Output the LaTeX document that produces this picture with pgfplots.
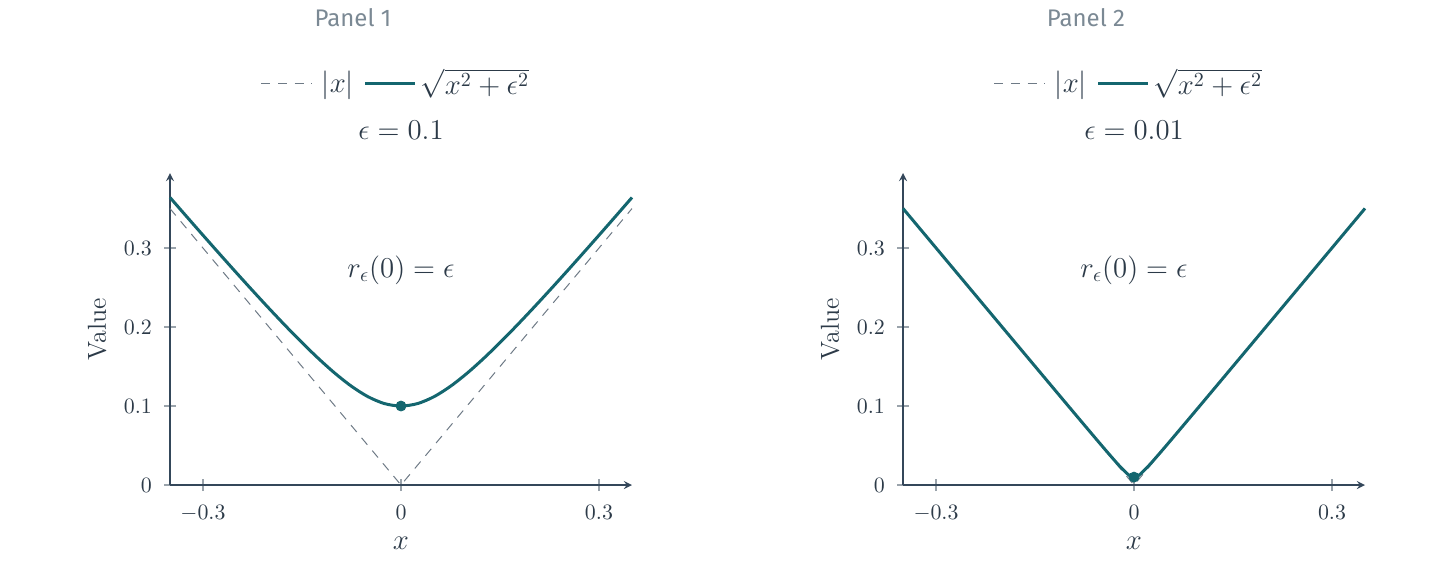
\documentclass[border=0pt]{standalone}
\usepackage{fontspec}
\usepackage{pgfplots}
\pgfplotsset{compat=1.18}
\newfontfamily\panelfont{Fira Sans}
\definecolor{teal1}{HTML}{14666F}
\definecolor{dashc}{HTML}{6E7A86}
\definecolor{textc}{HTML}{2C3A48}
\definecolor{axisc}{HTML}{34475A}
\definecolor{tickc}{HTML}{9AA3AB}
\definecolor{panelc}{HTML}{7B8994}

\pgfplotsset{
  panel/.style={
    scale only axis, width=231pt, height=156pt,
    xmin=-0.35, xmax=0.35, ymin=0, ymax=0.395,
    axis lines=left,
    axis line style={axisc, line width=0.8pt, -stealth},
    xtick={-0.3,0,0.3}, ytick={0,0.1,0.2,0.3},
    tick align=center, major tick length=6pt,
    tick style={tickc, line width=0.6pt},
    every tick label/.append style={text=textc, font=\fontsize{11}{13}\selectfont},
    xticklabel style={yshift=-3.5pt},
    yticklabel style={xshift=-2.5pt},
    xlabel={$x$}, ylabel={Value},
    xlabel style={at={(axis description cs:0.5,0)}, anchor=center, yshift=-29pt, text=textc, font=\fontsize{13.5}{16}\selectfont},
    ylabel style={at={(axis description cs:0,0.5)}, anchor=center, yshift=36.5pt, text=textc, font=\fontsize{13}{15}\selectfont},
    title style={at={(0.5,1)}, anchor=center, yshift=15.5pt, text=textc, font=\fontsize{13.5}{16}\selectfont},
    legend style={at={(0.5,1)}, anchor=center, yshift=45pt, xshift=-2pt, draw=none, fill=none,
      legend columns=-1, font=\Large, text=textc,
      /tikz/every even column/.append style={column sep=3pt}},
    legend image code/.code={\draw[#1] (0pt,0pt) -- (25pt,0pt);},
    clip=false,
  },
  absline/.style={dashc, line width=0.5pt, dash pattern=on 4.5pt off 3.8pt},
  smline/.style={teal1, line width=1.5pt, smooth},
}

\begin{document}
\begin{tikzpicture}
\path[use as bounding box] (0,0) rectangle (719.5pt,292.5pt);

\node[font=\panelfont\large, text=panelc] at (176.5pt,283.5pt) {Panel 1};
\node[font=\panelfont\large, text=panelc] at (543pt,283.5pt) {Panel 2};

\begin{axis}[panel, at={(85pt,50pt)}, anchor=south west, title={$\epsilon = 0.1$}]
  \addplot[absline] coordinates {(-0.35,0.35) (0,0) (0.35,0.35)};
  \addlegendentry{\hspace{3pt}$|x|$}
  \addplot[smline] coordinates {
    (-0.35,0.36401) (-0.325,0.34004) (-0.3,0.31623) (-0.275,0.29262)
    (-0.25,0.26926) (-0.225,0.24622) (-0.2,0.22361) (-0.175,0.20156)
    (-0.15,0.18028) (-0.125,0.16008) (-0.1,0.14142) (-0.075,0.125)
    (-0.05,0.11180) (-0.025,0.10308) (0,0.1) (0.025,0.10308)
    (0.05,0.11180) (0.075,0.125) (0.1,0.14142) (0.125,0.16008)
    (0.15,0.18028) (0.175,0.20156) (0.2,0.22361) (0.225,0.24622)
    (0.25,0.26926) (0.275,0.29262) (0.3,0.31623) (0.325,0.34004)
    (0.35,0.36401)};
  \addlegendentry{$\sqrt{x^2+\epsilon^2}$}
  \addplot[forget plot, only marks, mark=*, mark size=2.5pt, teal1] coordinates {(0,0.1)};
  \node[text=textc, font=\Large] at (axis cs:0,0.272) {$r_\epsilon(0) = \epsilon$};
\end{axis}

\begin{axis}[panel, at={(451.5pt,50pt)}, anchor=south west, title={$\epsilon = 0.01$}]
  \addplot[absline] coordinates {(-0.35,0.35) (0,0) (0.35,0.35)};
  \addlegendentry{\hspace{3pt}$|x|$}
  \addplot[smline] coordinates {
    (-0.35,0.35014) (-0.2,0.20025) (-0.1,0.10050) (-0.05,0.05099)
    (-0.03,0.03162) (-0.02,0.02236) (-0.01,0.01414) (-0.005,0.01118)
    (0,0.01) (0.005,0.01118) (0.01,0.01414) (0.02,0.02236)
    (0.03,0.03162) (0.05,0.05099) (0.1,0.10050) (0.2,0.20025)
    (0.35,0.35014)};
  \addlegendentry{$\sqrt{x^2+\epsilon^2}$}
  \addplot[forget plot, only marks, mark=*, mark size=2.5pt, teal1] coordinates {(0,0.01)};
  \node[text=textc, font=\Large] at (axis cs:0,0.272) {$r_\epsilon(0) = \epsilon$};
\end{axis}
\end{tikzpicture}
\end{document}
